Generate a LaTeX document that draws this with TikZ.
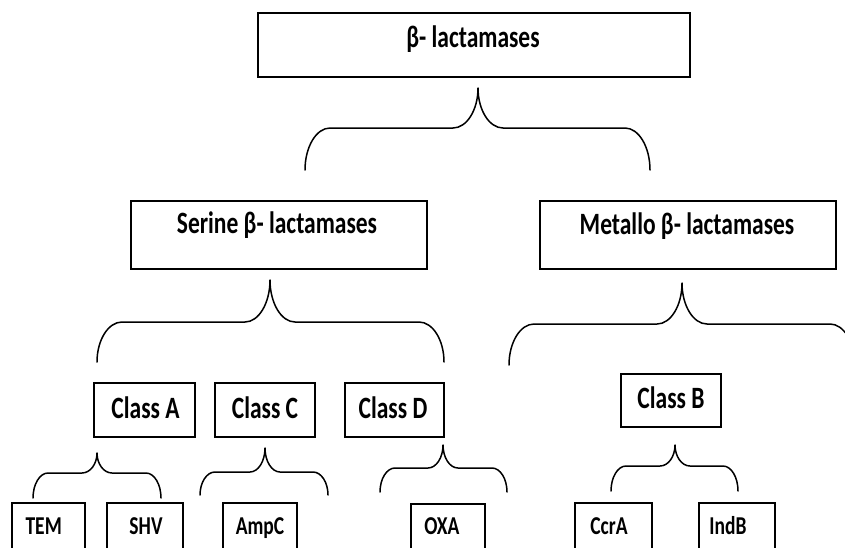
\documentclass[tikz,border=0pt]{standalone}
\usepackage{graphicx}
\usepackage{fontspec}
\setmainfont{Carlito}
\newcommand{\tall}[1]{\scalebox{1}[1.32]{#1}}
\begin{document}
\begin{tikzpicture}[x=1pt,y=-1pt,
  box/.style={draw=black,line width=1.6pt,inner sep=0pt,outer sep=0pt,fill=none},
  lblbig/.style={inner sep=0pt,anchor=base,font=\fontsize{23.5}{28}\selectfont\bfseries},
  lblsmall/.style={inner sep=0pt,anchor=base,font=\fontsize{19.5}{24}\selectfont\bfseries},
  bracepath/.style={draw=black,line width=1.5pt,line cap=round,line join=round}]
\newcommand{\brc}[7]{%
  \draw[bracepath] (#1,#6) .. controls (#1,{#5+0.45*(#6-#5)}) and ({#1+0.45*#7},#5) .. ({#1+#7},#5)
    -- ({#3-#7},#5) .. controls ({#3-0.45*#7},#5) and (#3,{#5-0.45*(#5-#4)}) .. (#3,#4)
    .. controls (#3,{#5-0.45*(#5-#4)}) and ({#3+0.45*#7},#5) .. ({#3+#7},#5)
    -- ({#2-#7},#5) .. controls ({#2-0.45*#7},#5) and (#2,{#5+0.45*(#6-#5)}) .. (#2,#6);}
\useasboundingbox (0,0) rectangle (845,547);
\clip (0,0) rectangle (845,547);
\fill[white] (0,0) rectangle (845,547);
% boxes
\node[box,minimum width=432pt,minimum height=64pt] (top) at (474,45) {};
\node[box,minimum width=296pt,minimum height=68pt] (serine) at (279,235) {};
\node[box,minimum width=296pt,minimum height=68pt] (metallo) at (688,235) {};
\node[box,minimum width=101pt,minimum height=54pt] (clA) at (144.5,410) {};
\node[box,minimum width=100pt,minimum height=54pt] (clC) at (265,410) {};
\node[box,minimum width=99pt,minimum height=54pt] (clD) at (394.5,410) {};
\node[box,minimum width=100pt,minimum height=53pt] (clB) at (671,400.5) {};
\node[box,minimum width=73pt,minimum height=72pt] (tem) at (48.5,539) {};
\node[box,minimum width=76pt,minimum height=72pt] (shv) at (145,539) {};
\node[box,minimum width=74pt,minimum height=72pt] (ampc) at (260,539) {};
\node[box,minimum width=74pt,minimum height=72pt] (oxa) at (448,540) {};
\node[box,minimum width=77pt,minimum height=72pt] (ccra) at (613.5,539) {};
\node[box,minimum width=76pt,minimum height=72pt] (indb) at (737,539) {};
% labels
\node[lblbig] (ttop) at (473,47) {\tall{β- lactamases}};
\node[lblbig] (tserine) at (277,233) {\tall{Serine β- lactamases}};
\node[lblbig] (tmetallo) at (687,234) {\tall{Metallo β- lactamases}};
\node[lblbig] (tclA) at (145.5,418) {\tall{Class A}};
\node[lblbig] (tclC) at (265,418) {\tall{Class C}};
\node[lblbig] (tclD) at (393,418) {\tall{Class D}};
\node[lblbig] (tclB) at (671,408) {\tall{Class B}};
\node[lblsmall] (ttem) at (43.7,534) {\tall{TEM}};
\node[lblsmall] (tshv) at (146,534) {\tall{SHV}};
\node[lblsmall] (tampc) at (260,534) {\tall{AmpC}};
\node[lblsmall] (toxa) at (442,534) {\tall{OXA}};
\node[lblsmall] (tccra) at (609,534) {\tall{CcrA}};
\node[lblsmall] (tindb) at (728,534) {\tall{IndB}};
% braces
\brc{305}{650}{478}{88}{128}{170}{25}
\brc{97}{444}{270}{280}{322}{362}{25}
\brc{509}{855}{682}{283}{324}{365}{25}
\brc{33}{161}{97}{453}{473}{498}{15}
\brc{200}{328}{265}{448}{472}{495}{15}
\brc{380}{507}{443}{445}{468}{492}{15}
\brc{611}{738}{675}{445}{466}{491}{15}
\end{tikzpicture}
\end{document}
